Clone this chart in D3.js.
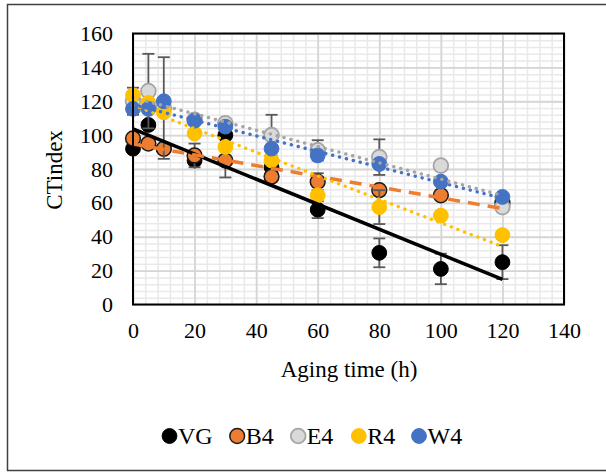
<!DOCTYPE html>
<html>
<head>
<meta charset="utf-8">
<script src="https://cdn.jsdelivr.net/npm/d3@7"></script>
<style>
  body { margin: 0; background: #fff; }
  svg text { font-family: "Liberation Serif", "Times New Roman", serif !important; fill: #000; }
</style>
</head>
<body>
<div id="chart"></div>
<script>
// values
const hours = [0, 5, 10, 20, 30, 45, 60, 80, 100, 120]
const vg = [92, 106, 92, 85, 100, 81, 56, 30.5, 21, 25]
const b4 = [98, 95, 92, 88, 85, 75.5, 72.5, 67.5, 64.5, 60]
const e4 = [120, 126, 116, 109, 107, 100, 91, 87, 82, 57.5]
const r4 = [123.5, 119, 113.5, 101, 93, 85, 64.5, 57.5, 52.5, 41]
const w4 = [115.5, 115.5, 120, 108.5, 105, 92, 88, 83, 72.5, 63.5]
// error bar half widths (0 = none visible)
const vgErr = [0, 0, 0, 0, 0, 0, 5, 8.5, 9, 10]
const b4Err = [0, 0, 0, 7, 10, 0, 5, 0, 0, 0]
const e4Err = [8, 22, 30, 0, 0, 12, 6, 10.5, 0, 0]
const r4Err = [0, 0, 0, 0, 0, 0, 0, 10, 0, 0]
const w4Err = [0, 0, 0, 0, 0, 0, 0, 0, 0, 0]
const seriesNames = ["VG", "B4", "E4", "R4", "W4"]
const xTicks = [0, 20, 40, 60, 80, 100, 120, 140]
const yTicks = [0, 20, 40, 60, 80, 100, 120, 140, 160]

const MARGIN = { TOP: 33.5, LEFT: 133 }
const WIDTH = 431
const HEIGHT = 271
const SERIF = "'Liberation Serif', 'Times New Roman', serif"

const styles = {
  VG: { fill: "#000000", stroke: "#000000", sw: 1, line: "#000000", dash: null, lw: 3.5 },
  B4: { fill: "#ed7d31", stroke: "#1a1a1a", sw: 1.5, line: "#ed7d31", dash: "12 8", lw: 3.5 },
  E4: { fill: "#d9d9d9", stroke: "#a5a5a5", sw: 1.8, line: "#a5a5a5", dash: "0.1 7", lw: 3.4 },
  R4: { fill: "#ffc000", stroke: "#ffc000", sw: 1, line: "#ffc000", dash: "0.1 7", lw: 3.4 },
  W4: { fill: "#4472c4", stroke: "#4472c4", sw: 1, line: "#4472c4", dash: "0.1 7", lw: 3.4 }
}

const series = [
  { name: "VG", vals: vg, err: vgErr },
  { name: "B4", vals: b4, err: b4Err },
  { name: "E4", vals: e4, err: e4Err },
  { name: "R4", vals: r4, err: r4Err },
  { name: "W4", vals: w4, err: w4Err }
]

const svg = d3.select("#chart").append("svg")
    .attr("width", 606)
    .attr("height", 472)

// outer chart border
svg.append("rect")
    .attr("x", 7.5).attr("y", 4.5)
    .attr("width", 640).attr("height", 466)
    .attr("fill", "none")
    .attr("stroke", "#404040")
    .attr("stroke-width", 1.5)

const g = svg.append("g")
    .attr("transform", `translate(${MARGIN.LEFT}, ${MARGIN.TOP})`)

const x = d3.scaleLinear().domain([0, 140]).range([0, WIDTH])
const y = d3.scaleLinear().domain([0, 160]).range([HEIGHT, 0])

// minor grid
const minorX = d3.range(0, 141, 4)
const minorY = d3.range(0, 161, 4)
g.append("g").attr("class", "minor")
  .call(d3.axisBottom(x).tickValues(minorX).tickSize(HEIGHT).tickFormat(""))
  .call(a => a.select(".domain").remove())
  .call(a => a.selectAll("line").attr("stroke", "#e9e9e9").attr("stroke-width", 1.5))
g.append("g").attr("class", "minor")
  .call(d3.axisLeft(y).tickValues(minorY).tickSize(-WIDTH).tickFormat(""))
  .call(a => a.select(".domain").remove())
  .call(a => a.selectAll("line").attr("stroke", "#e9e9e9").attr("stroke-width", 1.5))

// major grid
g.append("g")
  .call(d3.axisBottom(x).tickValues(xTicks).tickSize(HEIGHT).tickFormat(""))
  .call(a => a.select(".domain").remove())
  .call(a => a.selectAll("line").attr("stroke", "#d6d6d6").attr("stroke-width", 1.8))
g.append("g")
  .call(d3.axisLeft(y).tickValues(yTicks).tickSize(-WIDTH).tickFormat(""))
  .call(a => a.select(".domain").remove())
  .call(a => a.selectAll("line").attr("stroke", "#d6d6d6").attr("stroke-width", 1.8))

// tick labels
g.append("g")
    .attr("transform", `translate(0, ${HEIGHT})`)
    .call(d3.axisBottom(x).tickValues(xTicks).tickSize(0).tickPadding(18))
    .attr("font-family", SERIF).attr("font-size", 22)
  .call(a => a.select(".domain").remove())
  .call(a => a.selectAll("text").style("font-family", SERIF).style("font-size", "22px"))
g.append("g")
    .call(d3.axisLeft(y).tickValues(yTicks).tickSize(0).tickPadding(20))
    .attr("font-family", SERIF).attr("font-size", 22)
  .call(a => a.select(".domain").remove())
  .call(a => a.selectAll("text").style("font-family", SERIF).style("font-size", "22px"))

// error bars + markers
series.forEach(s => {
  const st = styles[s.name]
  const pts = hours.map((h, i) => ({ h, v: s.vals[i], e: s.err[i] }))
  const eb = g.append("g").attr("stroke", "#595959").attr("stroke-width", 1.8)
  pts.filter(d => d.e > 0).forEach(d => {
    eb.append("line").attr("x1", x(d.h)).attr("x2", x(d.h))
        .attr("y1", y(d.v + d.e)).attr("y2", y(d.v - d.e))
    eb.append("line").attr("x1", x(d.h) - 6).attr("x2", x(d.h) + 6)
        .attr("y1", y(d.v + d.e)).attr("y2", y(d.v + d.e))
    eb.append("line").attr("x1", x(d.h) - 6).attr("x2", x(d.h) + 6)
        .attr("y1", y(d.v - d.e)).attr("y2", y(d.v - d.e))
  })
  g.append("g").selectAll("circle")
    .data(pts)
    .enter().append("circle")
      .attr("cx", d => x(d.h))
      .attr("cy", d => y(d.v))
      .attr("r", 7.4)
      .attr("fill", st.fill)
      .attr("stroke", st.stroke)
      .attr("stroke-width", st.sw)
})

// linear trend lines
series.forEach(s => {
  const st = styles[s.name]
  const mx = d3.mean(hours)
  const my = d3.mean(s.vals)
  const sxy = d3.sum(hours, (h, i) => (h - mx) * (s.vals[i] - my))
  const sxx = d3.sum(hours, h => (h - mx) * (h - mx))
  const slope = sxy / sxx
  const icpt = my - slope * mx
  const ends = [0, 120]
  g.append("line")
      .attr("x1", x(ends[0])).attr("y1", y(icpt + slope * ends[0]))
      .attr("x2", x(ends[1])).attr("y2", y(icpt + slope * ends[1]))
      .attr("stroke", st.line)
      .attr("stroke-width", st.lw)
      .attr("stroke-dasharray", st.dash)
      .attr("stroke-linecap", st.dash === "0.1 7" ? "round" : "butt")
})

// plot border
g.append("rect")
    .attr("width", WIDTH).attr("height", HEIGHT)
    .attr("fill", "none")
    .attr("stroke", "#000")
    .attr("stroke-width", 2)

// axis titles
svg.append("text")
    .attr("x", 349).attr("y", 377)
    .attr("text-anchor", "middle")
    .attr("font-size", 23)
    .text("Aging time (h)")
svg.append("text")
    .attr("transform", "translate(62, 170) rotate(-90)")
    .attr("text-anchor", "middle")
    .attr("font-size", 23)
    .text("CTindex")

// legend
const legendX = [169.5, 237.2, 298.2, 358.8, 419]
const leg = svg.append("g")
seriesNames.forEach((n, i) => {
  const st = styles[n]
  leg.append("circle")
      .attr("cx", legendX[i]).attr("cy", 436)
      .attr("r", 7.4)
      .attr("fill", st.fill)
      .attr("stroke", st.stroke)
      .attr("stroke-width", st.sw)
  leg.append("text")
      .attr("x", legendX[i] + 8.5).attr("y", 444)
      .attr("font-size", 24)
      .text(n)
})
</script>
</body>
</html>
